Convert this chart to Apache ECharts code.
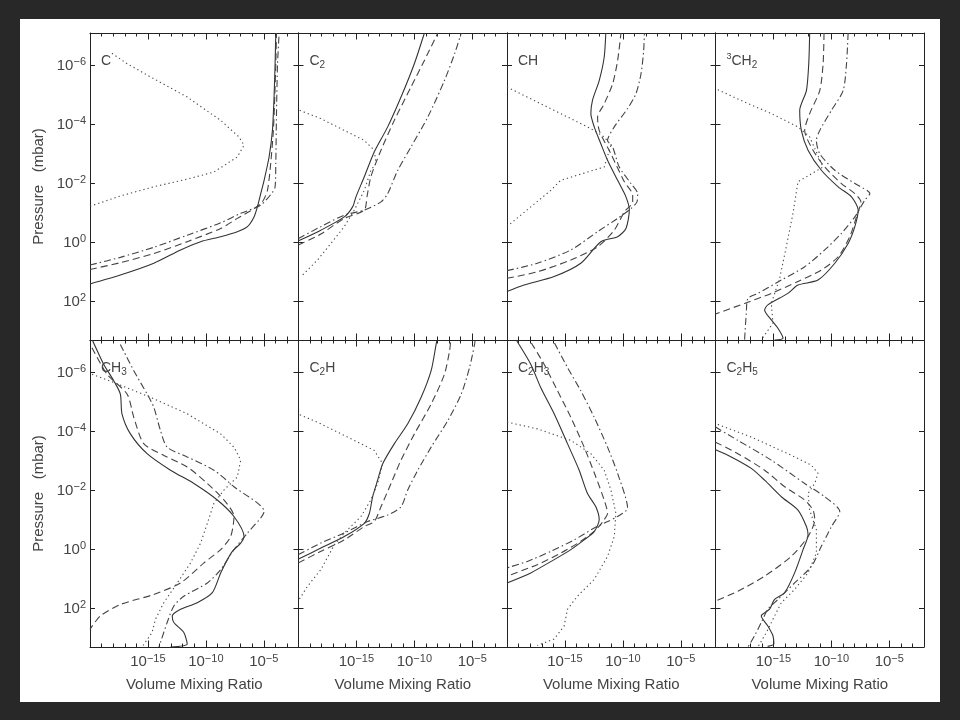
<!DOCTYPE html>
<html><head><meta charset="utf-8">
<script src="https://cdn.jsdelivr.net/npm/echarts@6/dist/echarts.min.js"></script>
<style>html,body{margin:0;padding:0;background:#282828}#c{width:960px;height:720px}</style>
</head><body><div id="c"></div>
<script>
// All values are exponents: [log10(volume mixing ratio), log10(pressure / mbar)]
const C_solid   = [[-20,1.40],[-17.38,1.10],[-14.49,0.70],[-12.18,0.25],[-10.45,-0.03],[-8.72,-0.20],[-7.28,-0.37],[-6.41,-0.54],[-5.84,-0.87],[-5.55,-1.21],[-5.26,-1.66],[-4.97,-2.11],[-4.54,-2.90],[-4.25,-3.80],[-4.11,-4.93],[-4.02,-6.06],[-3.96,-7.1]];
const C_dashed  = [[-20,0.91],[-17.38,0.68],[-14.49,0.37],[-11.61,-0.03],[-8.72,-0.48],[-7.28,-0.82],[-5.84,-1.15],[-5.12,-1.38],[-4.68,-1.77],[-4.40,-2.68],[-4.17,-3.80],[-4.05,-4.93],[-3.96,-6.06],[-3.90,-7.1]];
const C_dashdot = [[-20,0.76],[-17.38,0.50],[-14.49,0.16],[-11.61,-0.25],[-8.72,-0.67],[-6.99,-0.99],[-5.26,-1.27],[-4.25,-1.70],[-4.02,-1.89],[-3.96,-2.68],[-3.90,-4.37],[-3.81,-6.06],[-3.67,-7.1]];
const C_dotted  = [[-20,-1.23],[-17.38,-1.58],[-14.49,-1.89],[-11.61,-2.15],[-9.30,-2.39],[-7.28,-2.90],[-6.70,-3.30],[-7.14,-3.58],[-8.72,-4.14],[-11.61,-4.93],[-14.49,-5.55],[-16.80,-6.06],[-18.24,-6.45]];

const C2_solid   = [[-20,-0.06],[-18.07,-0.42],[-16.05,-0.87],[-15.33,-1.21],[-15.04,-1.55],[-14.32,-2.23],[-13.46,-3.07],[-12.30,-3.92],[-11.15,-4.93],[-10.00,-6.06],[-9.13,-7.1]];
const C2_dashed  = [[-20,0.08],[-18.07,-0.29],[-16.05,-0.82],[-14.32,-1.10],[-14.09,-1.55],[-13.75,-2.23],[-12.88,-3.13],[-11.73,-4.14],[-10.29,-5.27],[-9.13,-6.17],[-7.97,-7.1]];
const C2_dashdot = [[-20,-0.14],[-18.07,-0.54],[-16.05,-0.93],[-14.32,-1.10],[-12.88,-1.38],[-12.30,-1.66],[-11.43,-2.45],[-10.29,-3.24],[-8.84,-4.25],[-7.40,-5.49],[-6.53,-6.39],[-5.95,-7.1]];
const C2_dotted  = [[-19.9,-4.48],[-18.07,-4.20],[-16.05,-3.80],[-14.32,-3.46],[-13.46,-3.13],[-13.31,-2.68],[-13.75,-2.45],[-14.32,-1.77],[-15.18,-1.10],[-16.05,-0.54],[-17.20,0.03],[-18.36,0.59],[-19.65,1.10]];

const CH_solid   = [[-20,1.66],[-18.53,1.44],[-15.93,1.15],[-13.63,0.70],[-11.90,-0.03],[-10.45,-0.20],[-9.73,-0.48],[-9.44,-1.10],[-9.73,-1.55],[-10.45,-2.11],[-11.32,-2.79],[-11.90,-3.35],[-12.47,-3.92],[-12.76,-4.37],[-12.62,-4.82],[-12.04,-5.49],[-11.61,-6.28],[-11.47,-7.1]];
const CH_dashed  = [[-20,1.21],[-17.38,0.99],[-14.49,0.59],[-12.18,0.14],[-10.74,-0.42],[-9.87,-1.04],[-9.15,-1.38],[-9.15,-1.61],[-9.87,-2.06],[-11.03,-3.01],[-12.04,-3.80],[-12.18,-4.25],[-11.61,-4.70],[-10.88,-5.38],[-10.45,-6.17],[-10.16,-7.1]];
const CH_dashdot = [[-20,0.95],[-17.38,0.70],[-14.49,0.25],[-12.18,-0.37],[-10.45,-0.82],[-9.30,-1.15],[-8.78,-1.38],[-8.72,-1.66],[-9.30,-2.00],[-10.31,-2.56],[-10.88,-3.24],[-11.32,-3.46],[-10.74,-3.92],[-9.59,-4.54],[-8.87,-5.04],[-8.43,-5.72],[-8.20,-6.51],[-8.14,-7.1]];
const CH_dotted  = [[-20,-5.27],[-17.38,-4.76],[-14.49,-4.20],[-12.76,-3.86],[-11.61,-3.58],[-11.03,-3.30],[-11.61,-2.56],[-13.05,-2.39],[-15.36,-2.11],[-16.22,-1.77],[-17.95,-1.21],[-20,-0.54]];

const CH2_solid   = [[-11.87,-7.1],[-11.95,-6.06],[-12.15,-5.15],[-12.73,-4.48],[-12.59,-3.80],[-12.01,-3.13],[-10.86,-2.45],[-9.41,-1.89],[-8.26,-1.55],[-7.68,-1.10],[-7.97,-0.54],[-8.55,0.03],[-9.70,0.70],[-11.15,1.27],[-12.88,1.44],[-13.75,1.72],[-15.48,2.11],[-15.76,2.28],[-15.18,2.62],[-14.61,2.90],[-14.17,3.24],[-14.90,3.30]];
const CH2_dashed  = [[-10.63,-7.1],[-10.71,-6.06],[-11.00,-5.15],[-11.87,-4.37],[-12.30,-3.80],[-11.58,-3.13],[-10.57,-2.56],[-9.13,-2.00],[-7.97,-1.66],[-7.45,-1.38],[-7.83,-0.87],[-8.41,-0.20],[-9.41,0.48],[-10.86,0.93],[-12.88,1.32],[-15.18,1.72],[-17.49,2.06],[-20,2.42]];
const CH2_dashdot = [[-8.55,-7.1],[-8.69,-6.06],[-8.98,-5.15],[-9.99,-4.48],[-11.00,-3.80],[-11.29,-3.46],[-11.00,-3.01],[-9.70,-2.45],[-7.97,-2.00],[-6.67,-1.66],[-7.11,-1.44],[-7.97,-0.87],[-9.13,-0.31],[-10.57,0.25],[-12.30,0.82],[-14.32,1.27],[-16.34,1.72],[-17.20,1.89],[-17.34,2.39],[-17.49,3.3]];
const CH2_dotted  = [[-19.8,-5.18],[-17.49,-4.76],[-15.18,-4.37],[-12.88,-3.92],[-11.87,-3.58],[-10.72,-2.56],[-12.88,-2.06],[-13.31,-0.99],[-13.89,0.14],[-14.46,1.21],[-15.18,2.06],[-15.04,2.73],[-16.05,3.3]];

const CH3_solid   = [[-19.8,-7.1],[-18.82,-6.28],[-17.95,-5.72],[-17.38,-5.27],[-17.24,-4.60],[-16.51,-3.92],[-15.07,-3.25],[-13.05,-2.69],[-11.03,-2.24],[-9.01,-1.68],[-7.57,-1.12],[-6.70,-0.44],[-6.99,-0.22],[-7.71,0.06],[-8.14,0.34],[-8.72,0.79],[-9.44,1.46],[-10.74,1.80],[-12.18,2.02],[-12.90,2.25],[-12.76,2.47],[-11.90,2.81],[-11.61,3.20],[-13.05,3.3]];
const CH3_dashed  = [[-19.83,-6.84],[-18.53,-5.94],[-16.80,-5.27],[-16.22,-4.48],[-15.36,-3.59],[-13.63,-3.19],[-11.61,-2.80],[-9.87,-2.24],[-8.43,-1.68],[-7.57,-1.12],[-7.86,-0.44],[-8.72,0.00],[-10.16,0.45],[-12.18,1.13],[-14.49,1.52],[-17.38,1.86],[-19.11,2.25],[-20,2.70]];
const CH3_dashdot = [[-17.38,-6.95],[-16.22,-6.06],[-15.07,-5.27],[-14.49,-4.82],[-13.92,-4.04],[-13.34,-3.47],[-11.61,-3.14],[-9.30,-2.69],[-7.57,-2.13],[-4.97,-1.29],[-6.41,-0.56],[-7.57,0.00],[-8.72,0.68],[-9.87,1.13],[-11.90,1.58],[-12.76,1.91],[-13.34,2.47],[-13.92,3.15],[-14.05,3.3]];
const CH3_dotted  = [[-19.83,-5.94],[-17.95,-5.66],[-14.78,-5.16],[-11.61,-4.60],[-8.72,-3.92],[-7.57,-3.47],[-6.99,-3.03],[-7.28,-2.46],[-8.43,-2.02],[-9.30,-1.57],[-9.87,-0.89],[-10.45,-0.22],[-11.32,0.45],[-12.47,1.13],[-13.63,1.80],[-14.35,2.36],[-14.64,2.81],[-15.51,3.3]];

const C2H_solid   = [[-20,0.32],[-18.07,-0.05],[-16.05,-0.44],[-14.32,-0.89],[-13.88,-1.23],[-13.60,-1.79],[-13.17,-2.35],[-12.73,-2.91],[-11.72,-3.59],[-10.57,-4.26],[-9.41,-5.16],[-8.55,-6.06],[-8.12,-6.95],[-8.05,-7.1]];
const C2H_dashed  = [[-20,0.45],[-18.07,0.06],[-16.05,-0.33],[-14.32,-0.78],[-13.46,-0.95],[-12.88,-1.45],[-12.01,-2.24],[-11.15,-3.03],[-9.99,-3.92],[-8.55,-4.93],[-7.40,-5.94],[-6.96,-6.73],[-6.85,-7.1]];
const C2H_dashdot = [[-20,0.17],[-18.07,-0.22],[-16.05,-0.56],[-14.03,-0.95],[-12.30,-1.17],[-11.15,-1.45],[-10.57,-2.02],[-9.70,-2.69],[-8.55,-3.47],[-7.11,-4.37],[-5.95,-5.27],[-5.23,-6.17],[-4.80,-6.95],[-4.75,-7.1]];
const C2H_dotted  = [[-19.88,-4.57],[-18.07,-4.26],[-15.76,-3.81],[-13.46,-3.36],[-12.73,-2.91],[-13.17,-2.24],[-13.75,-1.68],[-14.61,-1.12],[-16.05,-0.56],[-16.91,-0.16],[-18.07,0.68],[-19.22,1.24],[-19.94,1.69]];

const C2H3_solid   = [[-19.2,-7.1],[-17.95,-6.28],[-17.09,-5.49],[-15.93,-4.60],[-14.78,-3.59],[-13.77,-2.69],[-13.05,-1.90],[-12.33,-1.45],[-12.04,-1.01],[-12.47,-0.61],[-13.34,-0.33],[-14.49,0.00],[-15.93,0.34],[-17.95,0.79],[-20,1.13]];
const C2H3_dashed  = [[-17.9,-7.0],[-16.80,-6.28],[-15.64,-5.38],[-14.49,-4.48],[-13.34,-3.47],[-12.33,-2.46],[-11.61,-1.68],[-11.32,-1.23],[-11.61,-1.01],[-12.33,-0.67],[-13.63,-0.28],[-15.36,0.12],[-17.38,0.51],[-20,0.90]];
const C2H3_dashdot = [[-15.9,-7.0],[-14.78,-6.17],[-13.63,-5.38],[-12.47,-4.48],[-11.32,-3.47],[-10.45,-2.58],[-9.59,-1.40],[-10.45,-1.12],[-11.32,-0.95],[-12.47,-0.73],[-14.20,-0.33],[-16.22,0.06],[-18.24,0.40],[-20,0.62]];
const C2H3_dotted  = [[-20,-4.32],[-17.38,-4.09],[-14.49,-3.70],[-12.76,-3.25],[-11.61,-2.69],[-11.03,-2.02],[-10.60,-1.23],[-10.74,-0.44],[-11.32,0.23],[-12.47,1.01],[-13.92,1.58],[-14.78,2.02],[-15.07,2.59],[-15.93,3.03],[-17.38,3.25]];

const C2H5_solid   = [[-20,-3.38],[-18.64,-3.14],[-16.91,-2.75],[-15.76,-2.35],[-14.32,-1.79],[-12.88,-1.34],[-12.15,-0.78],[-12.01,-0.50],[-12.44,0.00],[-13.17,0.79],[-14.03,1.46],[-14.90,1.69],[-15.33,2.02],[-16.05,2.25],[-15.48,2.59],[-15.04,2.92],[-14.96,3.2],[-15.5,3.28]];
const C2H5_dashed  = [[-20,-3.64],[-18.07,-3.25],[-15.76,-2.69],[-14.03,-2.13],[-12.30,-1.68],[-11.58,-1.34],[-11.43,-1.01],[-12.01,-0.44],[-13.46,0.23],[-15.76,0.90],[-18.07,1.41],[-20,1.74]];
const C2H5_dashdot = [[-20,-4.15],[-18.07,-3.70],[-15.18,-3.03],[-12.30,-2.24],[-10.57,-1.79],[-9.27,-1.29],[-9.99,-0.78],[-10.86,-0.11],[-11.72,0.57],[-13.17,1.13],[-14.61,1.69],[-15.48,2.02],[-16.05,2.47],[-16.63,2.92],[-17.20,3.3]];
const C2H5_dotted  = [[-19.8,-4.24],[-16.91,-3.81],[-13.74,-3.25],[-11.72,-2.86],[-11.15,-2.58],[-11.43,-2.24],[-12.01,-1.90],[-11.87,-1.34],[-11.29,-0.67],[-11.29,0.12],[-12.01,0.79],[-13.17,1.35],[-14.32,1.80],[-14.90,2.25],[-15.61,2.81],[-16.34,3.3]];

const panelLabels = ['{m|C}', '{m|C}{s|2}', '{m|CH}', '{u|3}{m|CH}{s|2}', '{m|CH}{s|3}', '{m|C}{s|2}{m|H}', '{m|C}{s|2}{m|H}{s|3}', '{m|C}{s|2}{m|H}{s|5}'];
const panelData = [
  [C_solid, C_dashed, C_dashdot, C_dotted],
  [C2_solid, C2_dashed, C2_dashdot, C2_dotted],
  [CH_solid, CH_dashed, CH_dashdot, CH_dotted],
  [CH2_solid, CH2_dashed, CH2_dashdot, CH2_dotted],
  [CH3_solid, CH3_dashed, CH3_dashdot, CH3_dotted],
  [C2H_solid, C2H_dashed, C2H_dashdot, C2H_dotted],
  [C2H3_solid, C2H3_dashed, C2H3_dashdot, C2H3_dotted],
  [C2H5_solid, C2H5_dashed, C2H5_dashdot, C2H5_dotted]
];
const xTickLabels = {'-15': '−15', '-10': '−10', '-5': '−5'};
const yTickLabels = {'-6': '−6', '-4': '−4', '-2': '−2', '0': '0', '2': '2'};
const xAxisTitle = 'Volume Mixing Ratio';
const yAxisTitle = 'Pressure   (mbar)';

// ---- layout / style ----
const L0 = 90, PW = 208.5, ROWT = [33, 340], PH = 307;
const XMIN = -20, XMAX = -2, YMIN = -7.1, YMAX = 3.3;
const INK = '#222', TXT = '#444';
const FONT = '"Liberation Sans", Arial, sans-serif';
const lineStyles = [
  {type: 'solid', color: '#333', width: 1.1},
  {type: [7, 4], color: '#444', width: 1.1},
  {type: [7, 3, 1.5, 3], color: '#444', width: 1.1},
  {type: [1.3, 3], color: '#4a4a4a', width: 1.1}
];
const labelRich = {
  b: {fontSize: 15, color: TXT, fontFamily: FONT, lineHeight: 18},
  s: {fontSize: 11, color: TXT, fontFamily: FONT, lineHeight: 11, verticalAlign: 'top'}
};

const grid = [], xAxis = [], yAxis = [], series = [], title = [];
function xAx(gi, pos, interval, len, showLine, labels, name) {
  return {
    gridIndex: gi, type: 'value', position: pos, min: XMIN, max: XMAX, interval: interval,
    axisLine: {show: showLine, onZero: false, lineStyle: {color: INK, width: 1}},
    axisTick: {show: true, inside: true, length: len, lineStyle: {color: INK, width: 1}},
    axisLabel: labels ? {show: true, margin: 6, formatter: v => xTickLabels[String(v)] ? '{b|10}{s|' + xTickLabels[String(v)] + '}' : '', rich: labelRich} : {show: false},
    splitLine: {show: false},
    name: name || '', nameLocation: 'middle', nameGap: 30,
    nameTextStyle: {fontSize: 15, color: TXT, fontFamily: FONT}
  };
}
panelData.forEach((lines, i) => {
  const r = Math.floor(i / 4), c = i % 4;
  const left = L0 + c * PW, top = ROWT[r];
  const gi = grid.length;
  grid.push({left: left, top: top, width: PW, height: PH, containLabel: false});
  const xi = xAxis.length;
  xAxis.push(xAx(gi, 'bottom', 1, 3.5, true, false));
  xAxis.push(xAx(gi, 'bottom', 5, 6.5, false, r === 1, r === 1 ? xAxisTitle : ''));
  xAxis.push(xAx(gi, 'top', 1, 3.5, true, false));
  xAxis.push(xAx(gi, 'top', 5, 6.5, false, false));
  const yi = yAxis.length;
  ['left', 'right'].forEach(pos => yAxis.push({
    gridIndex: gi, type: 'value', position: pos, min: YMIN, max: YMAX, inverse: true,
    axisLine: {show: true, onZero: false, lineStyle: {color: INK, width: 1}},
    axisTick: {show: false}, axisLabel: {show: false}, splitLine: {show: false},
    name: (pos === 'left' && c === 0) ? yAxisTitle : '', nameLocation: 'middle', nameGap: 44, nameRotate: 90,
    nameTextStyle: {fontSize: 15, color: TXT, fontFamily: FONT}
  }));
  // tick grid spanning 10^-6 .. 10^2 for the pressure ticks
  const tg = grid.length;
  grid.push({left: left, top: top + (-6 - YMIN) / (YMAX - YMIN) * PH, width: PW, height: 8 / (YMAX - YMIN) * PH});
  xAxis.push({gridIndex: tg, type: 'value', show: false, min: 0, max: 1});
  ['left', 'right'].forEach(pos => yAxis.push({
    gridIndex: tg, type: 'value', position: pos, min: -6, max: 2, interval: 2, inverse: true,
    axisLine: {show: false},
    axisTick: {show: true, inside: true, length: 5, lineStyle: {color: INK, width: 1}},
    axisLabel: (pos === 'left' && c === 0) ? {show: true, margin: 4, formatter: v => '{b|10}{s|' + yTickLabels[String(v)] + '}', rich: labelRich} : {show: false},
    splitLine: {show: false}
  }));
  lines.forEach((d, k) => series.push({
    type: 'line', xAxisIndex: xi, yAxisIndex: yi, data: d, showSymbol: false, symbol: 'none',
    smooth: k === 3 ? false : 0.25, lineStyle: lineStyles[k], z: 3, clip: true
  }));
  title.push({
    text: panelLabels[i], left: left + 11, top: top + 19, padding: 0,
    textStyle: {fontWeight: 'normal', rich: {
      m: {fontSize: 14, fontWeight: 'normal', color: TXT, fontFamily: FONT, lineHeight: 18},
      s: {fontSize: 10, fontWeight: 'normal', color: TXT, fontFamily: FONT, lineHeight: 10, verticalAlign: 'bottom'},
      u: {fontSize: 9, fontWeight: 'normal', color: TXT, fontFamily: FONT, lineHeight: 9, verticalAlign: 'top'}
    }}
  });
});

const chart = echarts.init(document.getElementById('c'), null, {renderer: 'canvas'});
chart.setOption({
  backgroundColor: '#282828',
  animation: false,
  textStyle: {fontFamily: FONT},
  graphic: [{type: 'rect', shape: {x: 20, y: 19, width: 920, height: 683}, style: {fill: '#ffffff'}, z: -10, silent: true}],
  title: title, grid: grid, xAxis: xAxis, yAxis: yAxis, series: series
});
</script></body></html>
